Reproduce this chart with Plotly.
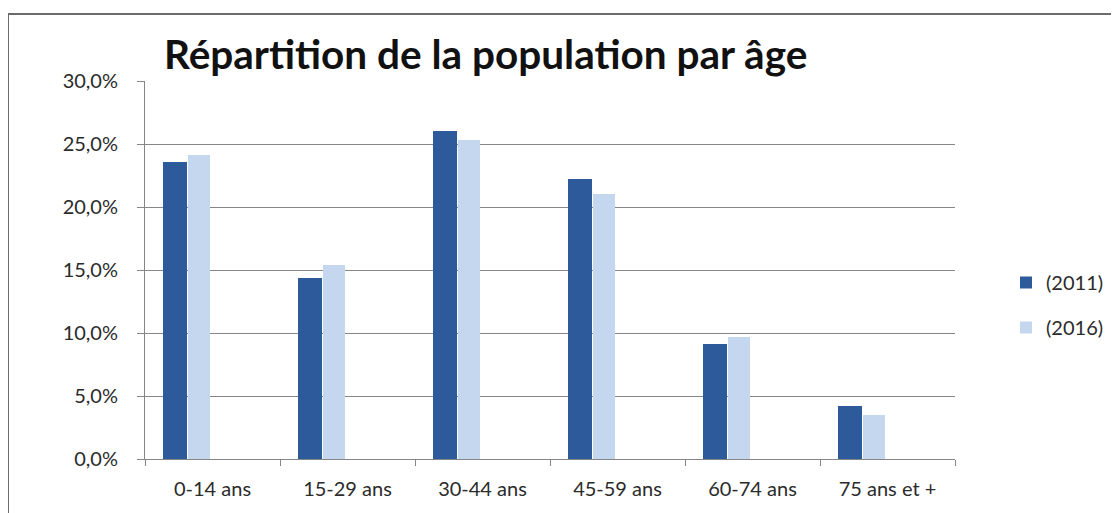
import plotly.graph_objects as go

categories = ["0-14 ans", "15-29 ans", "30-44 ans", "45-59 ans", "60-74 ans", "75 ans et +"]
values_2011 = [0.236, 0.144, 0.260, 0.222, 0.091, 0.042]
values_2016 = [0.241, 0.154, 0.253, 0.210, 0.097, 0.035]
series_names = ["(2011)", "(2016)"]
tick_vals = [0, 0.05, 0.10, 0.15, 0.20, 0.25, 0.30]

FONT = "Lato, 'Open Sans', sans-serif"
TXT = "#2b2b2b"

fig = go.Figure()
fig.add_trace(go.Bar(
    x=categories, y=values_2011, name=series_names[0],
    marker=dict(color="#2D5A9A", line=dict(width=0)),
    width=0.175, offset=-0.365, legendgroup="a",
))
fig.add_trace(go.Bar(
    x=categories, y=values_2016, name=series_names[1],
    marker=dict(color="#C5D7EE", line=dict(width=0)),
    width=0.165, offset=-0.185, legendgroup="b",
))

# page is offset by 8px body margin: plot area target 145..955 x, 81..459 y
fig.update_layout(
    width=1119, height=513,
    margin=dict(l=137, r=172, t=73, b=62),
    paper_bgcolor="white", plot_bgcolor="white",
    separators=", ",
    showlegend=True,
    legend=dict(
        xref="container", yref="container",
        x=998/1119, y=1-297/513, xanchor="left", yanchor="middle",
        font=dict(family=FONT, size=20, color=TXT),
        tracegroupgap=16, traceorder="grouped",
        itemwidth=30, bgcolor="rgba(0,0,0,0)",
    ),
    title=dict(
        text="<b>Répartition de la population par âge</b>",
        font=dict(family=FONT, size=40.5, color="#111111"),
        x=156/1119, xanchor="left", y=1-47/513, yanchor="middle",
    ),
    bargap=0,
    font=dict(family=FONT, size=20, color=TXT),
    xaxis=dict(
        showgrid=False, showline=True, linecolor="#868686", linewidth=1,
        ticks="outside", tickson="boundaries", ticklen=6, tickcolor="#868686",
        tickfont=dict(family=FONT, size=20, color=TXT),
        ticklabelstandoff=12,
        range=[-0.5, 5.5],
    ),
    yaxis=dict(
        range=[0, 0.30], tickvals=tick_vals, tickformat=".1%",
        showgrid=True, gridcolor="#868686", gridwidth=1,
        showline=True, linecolor="#868686", linewidth=1,
        ticks="outside", ticklen=7, tickcolor="#868686",
        tickfont=dict(family=FONT, size=20, color=TXT),
        ticklabelstandoff=15,
        zeroline=False,
    ),
    shapes=[dict(
        type="rect", xref="paper", yref="paper",
        x0=(8-145)/810, x1=1.4, y0=-0.3, y1=(459-14)/378,
        line=dict(color="#6b6b6b", width=2), fillcolor="rgba(0,0,0,0)",
        layer="below",
    )],
)

fig.write_html("out.html")
